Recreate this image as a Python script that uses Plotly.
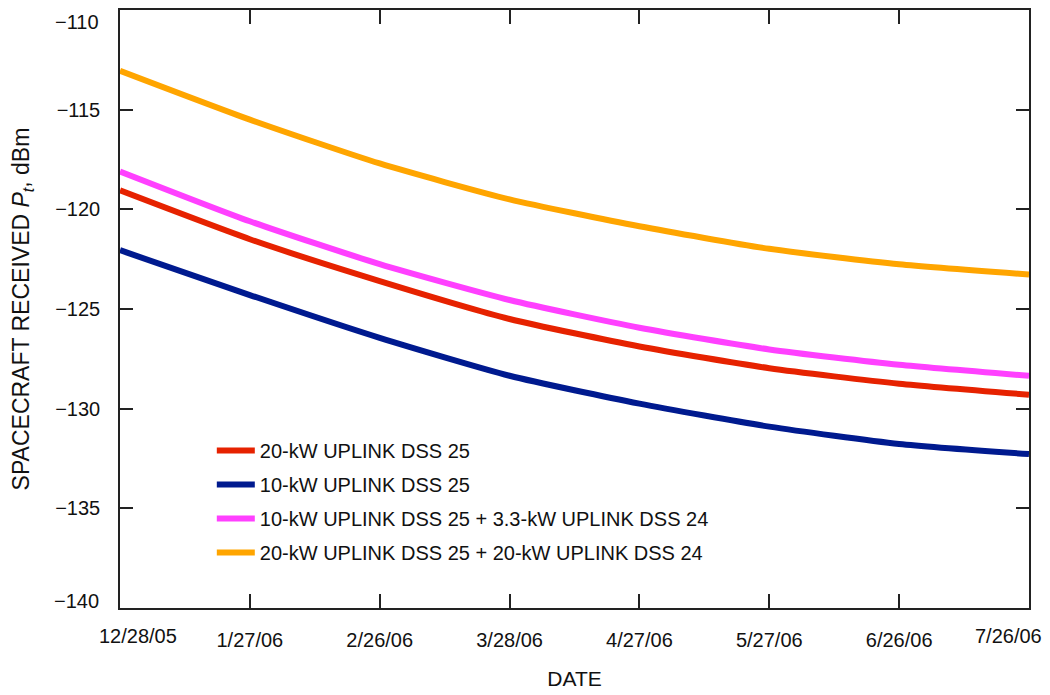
import plotly.graph_objects as go

# Dates sampled every 30 days across the tracking period
dates = ["2005-12-28", "2006-01-27", "2006-02-26", "2006-03-28",
         "2006-04-27", "2006-05-27", "2006-06-26", "2006-07-26"]
tick_labels = ["12/28/05", "1/27/06", "2/26/06", "3/28/06",
               "4/27/06", "5/27/06", "6/26/06", "7/26/06"]
y_ticks = [-140, -135, -130, -125, -120, -115, -110]

# Spacecraft received power, dBm
p_20kw_dss25 = [-119.05, -121.5, -123.6, -125.5, -126.88, -127.97, -128.75, -129.3]
p_10kw_dss25 = [-122.05, -124.3, -126.45, -128.35, -129.75, -130.9, -131.77, -132.28]
p_10kw_dss25_33kw_dss24 = [-118.1, -120.6, -122.75, -124.55, -125.94, -127.03, -127.8, -128.35]
p_20kw_dss25_20kw_dss24 = [-113.05, -115.5, -117.7, -119.5, -120.85, -121.98, -122.76, -123.27]

series = [
    ("20-kW UPLINK DSS 25", p_20kw_dss25, "#E62200"),
    ("10-kW UPLINK DSS 25", p_10kw_dss25, "#001A8F"),
    ("10-kW UPLINK DSS 25 + 3.3-kW UPLINK DSS 24", p_10kw_dss25_33kw_dss24, "#FF40FF"),
    ("20-kW UPLINK DSS 25 + 20-kW UPLINK DSS 24", p_20kw_dss25_20kw_dss24, "#FFA500"),
]

FONT = "Liberation Sans, Arial, Helvetica, sans-serif"
TICK_FONT = dict(family=FONT, size=20, color="#111")

fig = go.Figure()
for i, (name, vals, color) in enumerate(series):
    fig.add_trace(go.Scatter(
        x=dates, y=vals, name=name, mode="lines",
        line=dict(color=color, width=6, shape="spline", smoothing=0.6),
        legendgroup=f"g{i}",
    ))

axis_common = dict(
    showgrid=False, zeroline=False,
    showline=True, linecolor="#222", linewidth=1.5, mirror="ticks",
    ticks="inside", tickcolor="#222", tickwidth=1.5,
    tickfont=TICK_FONT,
)

# interior ticks carry axis labels; the end labels are annotations nudged inward
fig.update_xaxes(
    type="date", range=[dates[0], dates[-1]],
    tickmode="array", tickvals=dates[1:-1], ticktext=tick_labels[1:-1],
    ticklen=14, ticklabelstandoff=13,
    title=dict(text="DATE", font=dict(family=FONT, size=21, color="#111"), standoff=22),
    **axis_common,
)
fig.update_yaxes(
    range=[-140, -110], tickmode="array",
    tickvals=y_ticks[1:-1], ticktext=[f"\u2212{abs(v)}" for v in y_ticks[1:-1]],
    ticklen=13, ticklabelstandoff=14,
    title=dict(text="SPACECRAFT RECEIVED <i>P</i><sub><i>t</i></sub>, dBm",
               font=dict(family=FONT, size=23, color="#111"), standoff=19),
    **axis_common,
)

for d, lab, shift in [(dates[0], tick_labels[0], 18), (dates[-1], tick_labels[-1], -21)]:
    fig.add_annotation(
        x=d, y=0, xref="x", yref="paper", yanchor="top", yshift=-15,
        xshift=shift, text=lab, showarrow=False, font=TICK_FONT,
    )

for v, shift in [(y_ticks[0], 7), (y_ticks[-1], -12)]:
    fig.add_annotation(
        x=0, y=v, xref="paper", yref="y", xanchor="right", yanchor="middle",
        xshift=-19, yshift=shift, text=f"\u2212{abs(v)}", showarrow=False,
        font=TICK_FONT,
    )

fig.update_layout(
    width=1050, height=695,
    margin=dict(l=120, r=21, t=8, b=81),
    paper_bgcolor="white", plot_bgcolor="white",
    showlegend=True,
    legend=dict(
        x=0.101, y=0.296, xanchor="left", yanchor="top",
        bgcolor="rgba(0,0,0,0)", borderwidth=0,
        font=dict(family=FONT, size=20, color="#111"),
        traceorder="grouped", tracegroupgap=5, itemwidth=38,
    ),
)

fig.write_html("out.html")
